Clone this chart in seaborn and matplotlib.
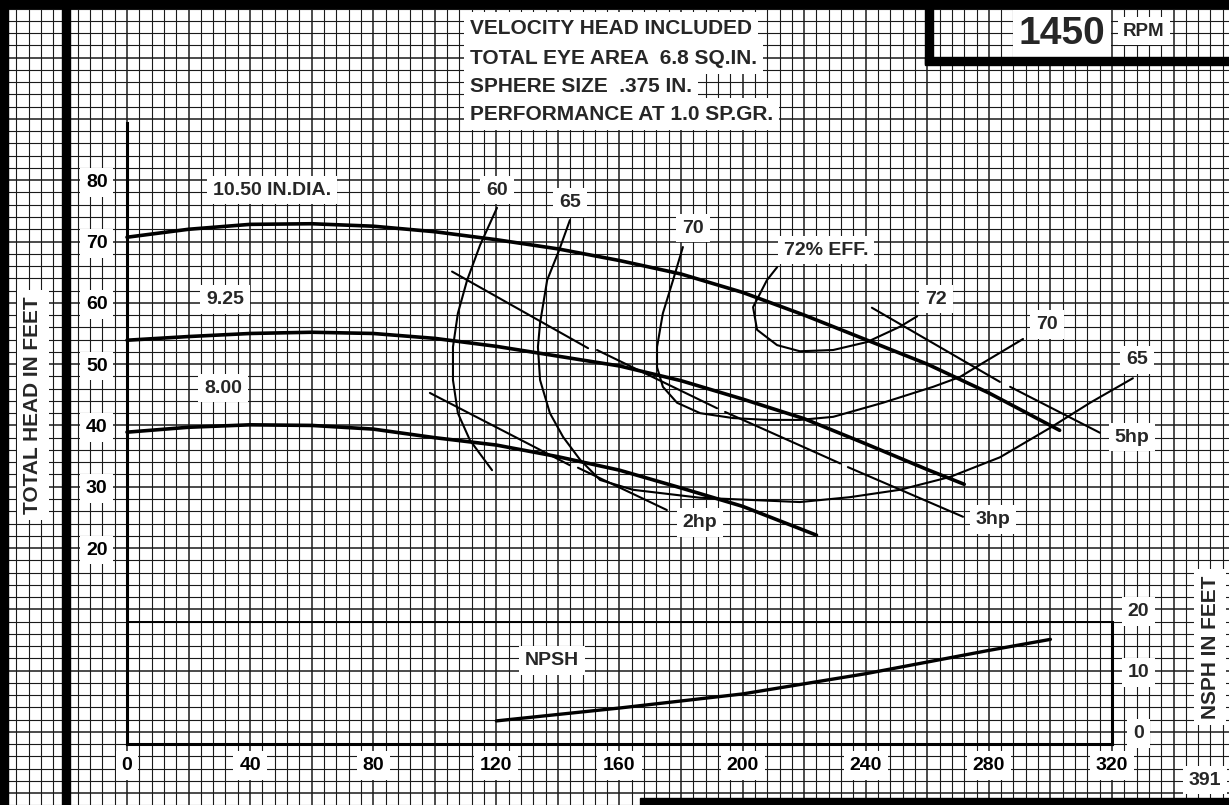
import numpy as np
import pandas as pd
import seaborn as sns
import matplotlib.pyplot as plt
from matplotlib.patches import Rectangle

sns.set_theme(style="white")
plt.rcParams['font.family'] = ['Liberation Sans', 'DejaVu Sans']

# ---- datos (GPM, pies) ----
x_ticks = [0, 40, 80, 120, 160, 200, 240, 280, 320]
y_ticks = [20, 30, 40, 50, 60, 70, 80]
npsh_ticks = [0, 10, 20]

q_1050 = [0, 20, 40, 60, 80, 100, 120, 140, 160, 180, 200, 220, 240, 260, 280, 303]
h_1050 = [70.7, 72.0, 72.8, 72.9, 72.5, 71.6, 70.3, 68.8, 66.9, 64.7, 61.7, 58.0, 54.0, 50.0, 45.3, 39.2]

q_925 = [0, 20, 40, 60, 80, 100, 120, 140, 160, 180, 200, 220, 240, 260, 272]
h_925 = [53.9, 54.5, 55.0, 55.2, 55.0, 54.2, 52.9, 51.3, 49.7, 47.3, 44.3, 41.1, 37.0, 32.8, 30.4]

q_800 = [0, 20, 40, 60, 80, 100, 120, 140, 160, 180, 200, 224]
h_800 = [38.9, 39.7, 40.1, 40.0, 39.4, 38.0, 36.8, 34.9, 32.7, 29.8, 26.8, 22.1]

eff60_q = [120.2, 114.7, 110.5, 107.5, 105.9, 105.9, 107.5, 111.4, 118.6]
eff60_h = [75.5, 69.4, 63.7, 58.3, 52.8, 47.4, 42.0, 37.6, 32.7]

eff65_q = [143.9, 140.4, 136.5, 134.2, 133.5, 134.2, 137.4, 141.7, 147.2, 153.7, 164.4,
           186.2, 218.6, 234.9, 251.1, 267.4, 283.6, 299.9, 312.9, 326.8]
eff65_h = [73.5, 68.6, 63.7, 56.7, 52.8, 47.4, 42.0, 38.1, 34.4, 31.1, 29.5,
           28.2, 27.5, 28.3, 29.5, 31.6, 34.8, 39.6, 43.7, 47.7]

eff70_q = [180.6, 177.4, 174.1, 172.2, 172.2, 174.1, 178.7, 186.2, 196.9, 207.9, 218.6,
           229.4, 245.6, 261.9, 270.6, 278.1, 291.1]
eff70_h = [69.1, 63.7, 58.3, 52.8, 49.5, 46.3, 43.7, 42.0, 41.2, 40.9, 40.9,
           41.4, 43.7, 46.3, 47.9, 50.2, 54.1]

eff72_q = [211.2, 207.9, 203.4, 204.7, 211.2, 218.6, 229.4, 240.4, 251.1, 256.7]
eff72_h = [65.8, 63.7, 59.3, 55.6, 53.1, 52.1, 52.3, 53.6, 56.1, 57.8]

# lineas de potencia (con cortes donde cruzan las curvas)
hp2_q = [98.4, 143.9, 146.5, 175.4]
hp2_h = [45.3, 33.5, 33.1, 26.2]
hp2_seg = [0, 0, 1, 1]

hp3_q = [105.6, 149.8, 152.7, 191.7, 194.3, 231.7, 234.2, 271.6]
hp3_h = [65.1, 52.6, 52.3, 42.8, 42.2, 33.8, 33.2, 25.1]
hp3_seg = [0, 0, 1, 1, 2, 2, 3, 3]

hp5_q = [242.0, 283.6, 286.9, 316.1]
hp5_h = [59.2, 47.1, 46.3, 38.8]
hp5_seg = [0, 0, 1, 1]

npsh_q = [120, 160, 200, 240, 280, 300]
npsh_ft = [3.8, 5.9, 8.2, 11.5, 15.3, 17.1]

# ---- figura ----
W, H = 1229, 805
fig = plt.figure(figsize=(W / 100, H / 100), dpi=100)
ax = fig.add_axes([0, 0, 1, 1])
ax.set_xlim(-41.26, 358.02)
ax.set_ylim(-21.92, 109.40)
ax.patch.set_facecolor("white")

# papel milimetrado
for q in np.arange(-40, 360, 4):
    ax.axvline(q, color="#1a1a1a", lw=1.1 if q % 20 == 0 else 0.8, zorder=0)
for h in np.arange(-22, 110, 2):
    ax.axhline(h, color="#1a1a1a", lw=1.1 if h % 10 == 0 else 0.8, zorder=0)

for s in ["top", "right"]:
    ax.spines[s].set_visible(False)
ax.spines["left"].set_position(("data", 0))
ax.spines["left"].set_bounds(-12, 89.3)
ax.spines["bottom"].set_position(("data", -12))
ax.spines["bottom"].set_bounds(0, 320)
for s in ["left", "bottom"]:
    ax.spines[s].set_linewidth(2.2)
    ax.spines[s].set_color("black")
    ax.spines[s].set_zorder(2)

box = dict(boxstyle="square,pad=0.3", fc="white", ec="none")
ax.set_xticks(x_ticks)
ax.set_xticklabels([str(v) for v in x_ticks], fontweight="bold", fontsize=14, bbox=box)
ax.set_yticks(y_ticks)
ax.set_yticklabels([str(v) for v in y_ticks], fontweight="bold", fontsize=14, bbox=box)
ax.tick_params(axis="x", length=0, pad=9, colors="black")
ax.tick_params(axis="y", length=0, pad=14, colors="black")

# curvas de altura
for qq, hh in [(q_1050, h_1050), (q_925, h_925), (q_800, h_800)]:
    sns.lineplot(x=qq, y=hh, ax=ax, color="black", lw=2.6, sort=False, estimator=None, zorder=3)

# curvas de eficiencia
for qq, hh in [(eff60_q, eff60_h), (eff65_q, eff65_h), (eff70_q, eff70_h), (eff72_q, eff72_h)]:
    sns.lineplot(x=qq, y=hh, ax=ax, color="black", lw=1.5, sort=False, estimator=None, zorder=3)

# potencia
for qq, hh, sg in [(hp2_q, hp2_h, hp2_seg), (hp3_q, hp3_h, hp3_seg), (hp5_q, hp5_h, hp5_seg)]:
    df = pd.DataFrame({"q": qq, "h": hh, "seg": sg})
    sns.lineplot(data=df, x="q", y="h", units="seg", estimator=None, sort=False,
                 ax=ax, color="black", lw=1.5, zorder=3)

ax.set_xlabel("")
ax.set_ylabel("")

# NPSH
nax = ax.inset_axes([0, -12, 320, 20], transform=ax.transData)
nax.set_xlim(0, 320)
nax.set_ylim(0, 20)
nax.patch.set_alpha(0)
for s in ["left", "bottom"]:
    nax.spines[s].set_visible(False)
nax.spines["right"].set_linewidth(2.2)
nax.spines["top"].set_linewidth(1.4)
for s in ["right", "top"]:
    nax.spines[s].set_color("black")
nax.set_xticks([])
nax.set_yticks([])
sns.lineplot(x=npsh_q, y=npsh_ft, ax=nax, color="black", lw=2.4, estimator=None)
nax.set_xlabel("")
nax.set_ylabel("")
for v in npsh_ticks:
    nax.annotate(str(v), xy=(320, v), xytext=(19, 7.5), textcoords="offset points",
                 ha="center", va="center", fontsize=14, fontweight="bold", bbox=box)

# etiquetas
lab = dict(ha="center", va="center", fontsize=14, fontweight="bold", bbox=box, zorder=5)
ax.text(47.1, 78.4, "10.50 IN.DIA.", **lab)
ax.text(31.8, 60.5, "9.25", **lab)
ax.text(31.2, 46.1, "8.00", **lab)
ax.text(120.2, 78.4, "60", **lab)
ax.text(143.9, 76.4, "65", **lab)
ax.text(183.9, 72.2, "70", **lab)
ax.text(227.1, 68.6, "72% EFF.", **lab)
ax.text(262.8, 60.6, "72", **lab)
ax.text(298.9, 56.5, "70", **lab)
ax.text(328.1, 50.7, "65", **lab)
ax.text(326.5, 38.1, "5hp", **lab)
ax.text(281.4, 24.6, "3hp", **lab)
ax.text(186.2, 24.2, "2hp", **lab)
ax.text(138.1, 1.7, "NPSH", **lab)

# textos de la hoja
def fx(px):
    return px / W

def fy(py):
    return 1 - py / H

hdr = dict(ha="left", va="center", fontsize=15, fontweight="bold", bbox=box)
fig.text(fx(470), fy(28), "VELOCITY HEAD INCLUDED", **hdr)
fig.text(fx(470), fy(58), "TOTAL EYE AREA  6.8 SQ.IN.", **hdr)
fig.text(fx(470), fy(86), "SPHERE SIZE  .375 IN.", **hdr)
fig.text(fx(470), fy(114), "PERFORMANCE AT 1.0 SP.GR.", **hdr)

fig.text(fx(1062), fy(34), "1450", ha="center", va="center", fontsize=28,
         fontweight="bold", bbox=dict(boxstyle="square,pad=0.15", fc="white", ec="none"))
fig.text(fx(1144), fy(31), "RPM", ha="center", va="center", fontsize=13.5,
         fontweight="bold", bbox=box)
fig.text(fx(1205), fy(780), "391", ha="center", va="center", fontsize=14,
         fontweight="bold", bbox=box)
fig.text(fx(33), fy(405), "TOTAL HEAD IN FEET", rotation=90, ha="center", va="center",
         fontsize=15, fontweight="bold", bbox=box)
fig.text(fx(1210), fy(647), "NSPH IN FEET", rotation=90, ha="center", va="center",
         fontsize=15, fontweight="bold", bbox=box)

# bordes gruesos
def band(x0, y0, x1, y1):
    fig.add_artist(Rectangle((fx(x0), fy(y1)), (x1 - x0) / W, (y1 - y0) / H,
                             transform=fig.transFigure, color="black", zorder=10))

band(0, 0, W, 8)
band(0, 0, 8, H)
band(62, 0, 70, H)
band(925, 0, 933, 64)
band(925, 57, W, 65)
band(640, 798, W, H)

fig.savefig("out.png", dpi=100)
